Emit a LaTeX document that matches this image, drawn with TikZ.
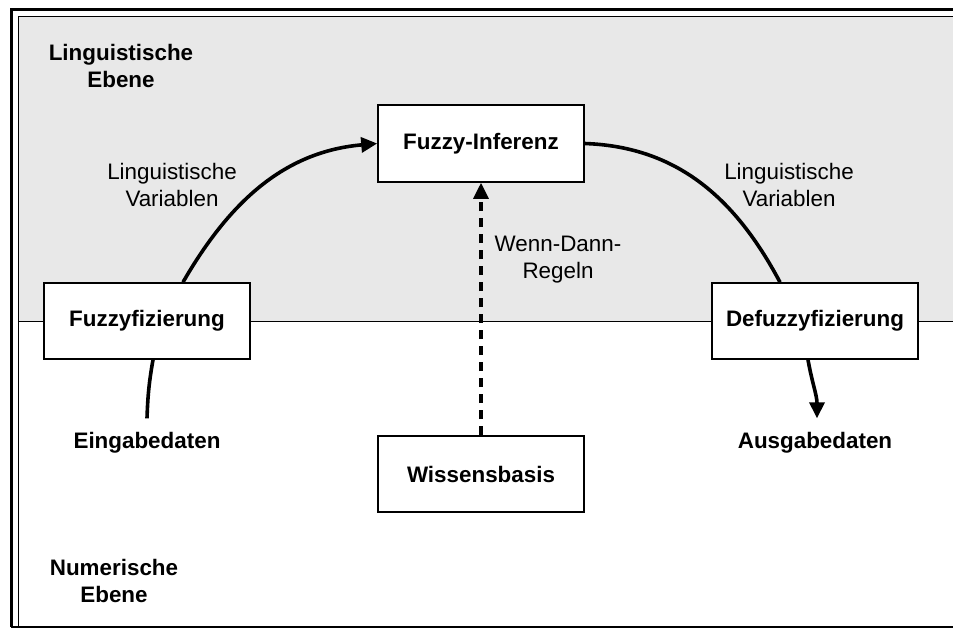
\documentclass[tikz,border=0pt]{standalone}
\usepackage{fontspec}
\setmainfont{Liberation Sans}
\usetikzlibrary{arrows.meta}
\definecolor{planegray}{HTML}{E8E8E8}
\tikzset{
  stage/.style={draw=black, line width=1.6pt, fill=white,
    minimum width=206pt, minimum height=76pt, inner sep=0pt,
    font=\fontsize{22.4}{27}\selectfont\bfseries},
  planelabel/.style={align=center, inner sep=0pt,
    font=\fontsize{22.4}{27}\selectfont\bfseries},
  datalabel/.style={inner sep=0pt, font=\fontsize{22.4}{27}\selectfont\bfseries},
  flowlabel/.style={align=center, inner sep=0pt,
    font=\fontsize{22.4}{27}\selectfont},
  flow/.style={line width=3.6pt},
  flowtip/.style={flow, -{Triangle[length=16pt,width=15pt]}},
  rulelink/.style={line width=3.2pt, dash pattern=on 9pt off 7pt,
    -{Triangle[length=16pt,width=15pt]}}
}
\begin{document}
\begin{tikzpicture}[x=1pt,y=-1pt]
  \useasboundingbox (0,0) rectangle (953,632);

  % linguistic plane (shaded) and frame
  \fill[planegray] (18.5,16.5) rectangle (953,321.5);
  \draw[line width=2.8pt] (953,9.7) -- (11.3,9.7) -- (11.3,627);
  \draw[line width=1.4pt] (953,16.5) -- (18.5,16.5) -- (18.5,627);
  \draw[line width=2.2pt] (11,627) -- (953,627);
  \draw[line width=1.5pt] (18.5,321.5) -- (953,321.5);

  % plane names
  \node[planelabel] (ling) at (121,65.5) {Linguistische\\Ebene};
  \node[planelabel] (num) at (114,581) {Numerische\\Ebene};

  % processing stages
  \node[stage] (fuzz) at (147,321) {Fuzzyfizierung};
  \node[stage] (defuzz) at (815,321) {Defuzzyfizierung};
  \node[stage, minimum height=77pt] (inf) at (481,143.5) {Fuzzy-Inferenz};
  \node[stage] (wis) at (481,474) {Wissensbasis};

  % inputs / outputs
  \node[datalabel] (ein) at (147,443) {Eingabedaten};
  \node[datalabel] (aus) at (815,443) {Ausgabedaten};

  % edge labels
  \node[flowlabel] (lvl) at (172,185) {Linguistische\\Variablen};
  \node[flowlabel] (lvr) at (789,185) {Linguistische\\Variablen};
  \node[flowlabel] (rules) at (558,259.5) {Wenn-Dann-\\Regeln};

  % data flow
  \draw[flow] ([yshift=14pt]ein.north) to[out=88,in=-100] ([xshift=6pt]fuzz.south);
  \draw[flowtip] ([xshift=36pt]fuzz.north) to[out=60,in=185] (inf.west);
  \draw[flow] (inf.east) to[out=-2,in=118] ([xshift=-35pt]defuzz.north);
  \draw[flowtip] ([xshift=-7pt]defuzz.south) to[out=-80,in=90] ([xshift=2pt,yshift=14pt]aus.north);
  \draw[rulelink] (wis.north) -- (inf.south);
\end{tikzpicture}
\end{document}
